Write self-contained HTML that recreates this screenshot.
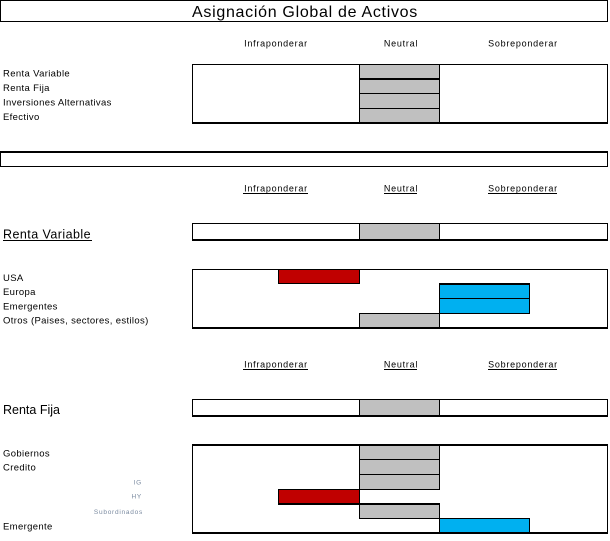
<!DOCTYPE html>
<html>
<head>
<meta charset="utf-8">
<style>
  html, body { margin: 0; padding: 0; background: #ffffff; }
  body { width: 610px; height: 541px; overflow: hidden; }
  svg { display: block; }
  text { font-family: "Liberation Sans", "DejaVu Sans", sans-serif; fill: #000; }
  .hdr { font-size: 9px; letter-spacing: 0.75px; }
  .row { font-size: 9.5px; letter-spacing: 0.35px; }
  .sm { font-size: 6.5px; letter-spacing: 0.75px; fill: #7a8aa0; }
</style>
</head>
<body>
<svg width="610" height="541" viewBox="0 0 610 541" xmlns="http://www.w3.org/2000/svg" shape-rendering="crispEdges">
  <rect x="0" y="0" width="610" height="541" fill="#ffffff"/>

  <!-- Title box -->
  <rect x="0" y="0" width="608" height="1" fill="#000"/>
  <rect x="0" y="21" width="608" height="1" fill="#000"/>
  <rect x="0" y="0" width="1" height="22" fill="#000"/>
  <rect x="607" y="0" width="1" height="22" fill="#000"/>
  <text x="305" y="17" text-anchor="middle" style="font-size:16px;letter-spacing:0.7px">Asignación Global de Activos</text>

  <!-- Headers section 1 -->
  <text class="hdr" x="276" y="46.7" text-anchor="middle">Infraponderar</text>
  <text class="hdr" x="401" y="46.7" text-anchor="middle">Neutral</text>
  <text class="hdr" x="523" y="46.7" text-anchor="middle">Sobreponderar</text>

  <!-- Section 1 labels -->
  <text class="row" x="3" y="76.7">Renta Variable</text>
  <text class="row" x="3" y="91">Renta Fija</text>
  <text class="row" x="3" y="105.7">Inversiones Alternativas</text>
  <text class="row" x="3" y="120">Efectivo</text>

  <!-- Section 1 table -->
  <rect x="360" y="65" width="79" height="57" fill="#c0c0c0"/>
  <rect x="192" y="64" width="416" height="1" fill="#000"/>
  <rect x="192" y="122" width="416" height="2" fill="#000"/>
  <rect x="192" y="64" width="1" height="60" fill="#000"/>
  <rect x="607" y="64" width="1" height="60" fill="#000"/>
  <rect x="359" y="64" width="1" height="58" fill="#000"/>
  <rect x="439" y="64" width="1" height="58" fill="#000"/>
  <rect x="359" y="78" width="81" height="2" fill="#000"/>
  <rect x="359" y="93" width="81" height="1" fill="#000"/>
  <rect x="359" y="108" width="81" height="1" fill="#000"/>

  <!-- Separator box -->
  <rect x="0" y="151" width="608" height="2" fill="#000"/>
  <rect x="0" y="166" width="608" height="1" fill="#000"/>
  <rect x="0" y="151" width="1" height="16" fill="#000"/>
  <rect x="607" y="151" width="1" height="16" fill="#000"/>

  <!-- Headers section 2 (underlined) -->
  <text class="hdr" x="276" y="191.7" text-anchor="middle">Infraponderar</text>
  <text class="hdr" x="401" y="191.7" text-anchor="middle">Neutral</text>
  <text class="hdr" x="523" y="191.7" text-anchor="middle">Sobreponderar</text>
  <rect x="243" y="193" width="65" height="1" fill="#000"/>
  <rect x="384" y="193" width="33" height="1" fill="#000"/>
  <rect x="488" y="193" width="69" height="1" fill="#000"/>

  <!-- Renta Variable big label -->
  <text x="3" y="238.3" style="font-size:12.5px;letter-spacing:0.45px">Renta Variable</text>
  <rect x="3" y="240" width="89" height="1" fill="#000"/>

  <!-- Renta Variable box -->
  <rect x="360" y="224" width="79" height="15" fill="#c0c0c0"/>
  <rect x="192" y="223" width="416" height="1" fill="#000"/>
  <rect x="192" y="239" width="416" height="2" fill="#000"/>
  <rect x="192" y="223" width="1" height="18" fill="#000"/>
  <rect x="607" y="223" width="1" height="18" fill="#000"/>
  <rect x="359" y="223" width="1" height="17" fill="#000"/>
  <rect x="439" y="223" width="1" height="17" fill="#000"/>

  <!-- Section 2 labels -->
  <text class="row" x="3" y="281">USA</text>
  <text class="row" x="3" y="295">Europa</text>
  <text class="row" x="3" y="309.3">Emergentes</text>
  <text class="row" x="3" y="323.3">Otros (Paises, sectores, estilos)</text>

  <!-- Section 2 table -->
  <rect x="279" y="270" width="80" height="13" fill="#c00000"/>
  <rect x="440" y="284" width="89" height="29" fill="#00b0f0"/>
  <rect x="360" y="314" width="79" height="13" fill="#c0c0c0"/>
  <rect x="192" y="269" width="416" height="1" fill="#000"/>
  <rect x="192" y="327" width="416" height="2" fill="#000"/>
  <rect x="192" y="269" width="1" height="60" fill="#000"/>
  <rect x="607" y="269" width="1" height="60" fill="#000"/>
  <!-- red borders -->
  <rect x="278" y="269" width="1" height="15" fill="#000"/>
  <rect x="359" y="269" width="1" height="15" fill="#000"/>
  <rect x="278" y="283" width="82" height="1" fill="#000"/>
  <!-- blue borders -->
  <rect x="439" y="283" width="91" height="2" fill="#000"/>
  <rect x="439" y="298" width="91" height="1" fill="#000"/>
  <rect x="439" y="313" width="91" height="1" fill="#000"/>
  <rect x="439" y="283" width="1" height="31" fill="#000"/>
  <rect x="529" y="283" width="1" height="31" fill="#000"/>
  <!-- grey otros borders -->
  <rect x="359" y="313" width="81" height="1" fill="#000"/>
  <rect x="359" y="313" width="1" height="15" fill="#000"/>
  <rect x="439" y="313" width="1" height="15" fill="#000"/>

  <!-- Headers section 3 (underlined) -->
  <text class="hdr" x="276" y="367.7" text-anchor="middle">Infraponderar</text>
  <text class="hdr" x="401" y="367.7" text-anchor="middle">Neutral</text>
  <text class="hdr" x="523" y="367.7" text-anchor="middle">Sobreponderar</text>
  <rect x="243" y="369" width="65" height="1" fill="#000"/>
  <rect x="384" y="369" width="33" height="1" fill="#000"/>
  <rect x="488" y="369" width="69" height="1" fill="#000"/>

  <!-- Renta Fija big label -->
  <text x="3" y="414" style="font-size:12.5px;letter-spacing:0px">Renta Fija</text>

  <!-- Renta Fija box -->
  <rect x="360" y="400" width="79" height="15" fill="#c0c0c0"/>
  <rect x="192" y="399" width="416" height="1" fill="#000"/>
  <rect x="192" y="415" width="416" height="2" fill="#000"/>
  <rect x="192" y="399" width="1" height="18" fill="#000"/>
  <rect x="607" y="399" width="1" height="18" fill="#000"/>
  <rect x="359" y="399" width="1" height="17" fill="#000"/>
  <rect x="439" y="399" width="1" height="17" fill="#000"/>

  <!-- Section 3 labels -->
  <text class="row" x="3" y="456.7">Gobiernos</text>
  <text class="row" x="3" y="470.7">Credito</text>
  <text class="sm" x="142" y="484.3" text-anchor="end">IG</text>
  <text class="sm" x="142" y="498.3" text-anchor="end">HY</text>
  <text class="sm" x="143" y="514" text-anchor="end">Subordinados</text>
  <text class="row" x="3" y="529.3">Emergente</text>

  <!-- Section 3 table -->
  <rect x="360" y="446" width="79" height="43" fill="#c0c0c0"/>
  <rect x="279" y="490" width="80" height="13" fill="#c00000"/>
  <rect x="360" y="505" width="79" height="13" fill="#c0c0c0"/>
  <rect x="440" y="519" width="89" height="13" fill="#00b0f0"/>
  <rect x="192" y="444" width="416" height="2" fill="#000"/>
  <rect x="192" y="532" width="416" height="2" fill="#000"/>
  <rect x="192" y="444" width="1" height="90" fill="#000"/>
  <rect x="607" y="444" width="1" height="90" fill="#000"/>
  <!-- grey rows -->
  <rect x="359" y="444" width="1" height="75" fill="#000"/>
  <rect x="439" y="444" width="1" height="46" fill="#000"/>
  <rect x="359" y="459" width="81" height="1" fill="#000"/>
  <rect x="359" y="474" width="81" height="1" fill="#000"/>
  <!-- red row -->
  <rect x="278" y="489" width="162" height="1" fill="#000"/>
  <rect x="278" y="489" width="1" height="15" fill="#000"/>
  <rect x="278" y="503" width="162" height="2" fill="#000"/>
  <!-- grey subordinados -->
  <rect x="439" y="503" width="1" height="16" fill="#000"/>
  <rect x="359" y="518" width="171" height="1" fill="#000"/>
  <!-- blue emergente -->
  <rect x="439" y="518" width="1" height="15" fill="#000"/>
  <rect x="529" y="518" width="1" height="15" fill="#000"/>
</svg>
</body>
</html>
